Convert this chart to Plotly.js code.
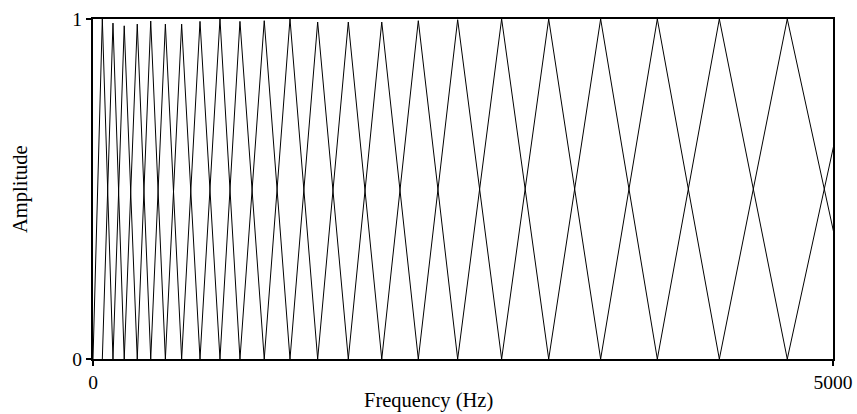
<!DOCTYPE html>
<html>
<head>
<meta charset="utf-8">
<script src="https://cdn.plot.ly/plotly-3.0.1.min.js"></script>
<style>body{margin:0;background:#fff}#chart{width:857px;height:414px}</style>
</head>
<body>
<div id="chart"></div>
<script>
// Filter centre frequencies (Hz), including the edges 0 and the off-chart centres
const centers = [0, 63, 135, 211, 299, 390, 489, 599, 723, 858, 993, 1157, 1331, 1518, 1725, 1951, 2198, 2464, 2761, 3079, 3430, 3813, 4232, 4691, 5191, 5730];
// Peak amplitude of each triangular filter (filter k peaks at centers[k+1])
const peaks = [1.0, 0.988, 0.980, 0.985, 0.994, 0.985, 0.985, 0.993, 1.0, 0.993, 0.995, 1.0, 0.991, 0.991, 0.991, 0.995, 0.998, 1.0, 1.0, 1.0, 1.0, 1.0, 1.0, 1.0];
const xTickVals = [0, 5000];
const xTickText = ['0', '5000'];
const yTickVals = [0, 1];
const yTickText = ['0', '1'];
const xTitle = 'Frequency (Hz)';
const yTitle = 'Amplitude';

const traces = [];
for (let k = 0; k < peaks.length; k++) {
  traces.push({
    type: 'scatter', mode: 'lines',
    x: [centers[k], centers[k + 1], centers[k + 2]],
    y: [0, peaks[k], 0],
    line: {color: '#000', width: 1},
    hoverinfo: 'skip', showlegend: false
  });
}

const font = {family: '"Liberation Serif", "Times New Roman", serif', size: 19.5, color: '#000'};
const titleFont = {family: '"Liberation Serif", "Times New Roman", serif', size: 20.5, color: '#000'};
const layout = {
  width: 857, height: 414,
  margin: {l: 93, r: 24, t: 19, b: 55},
  paper_bgcolor: '#fff', plot_bgcolor: '#fff',
  font: font,
  showlegend: false,
  xaxis: {
    range: [0, 5000], tickvals: xTickVals, ticktext: xTickText,
    showgrid: false, zeroline: false,
    showline: true, linecolor: '#000', linewidth: 2, mirror: true,
    ticks: 'outside', ticklen: 5, tickcolor: '#000', tickwidth: 1.5,
    tickfont: font
  },
  yaxis: {
    range: [0, 1], tickvals: yTickVals, ticktext: yTickText,
    showgrid: false, zeroline: false,
    showline: true, linecolor: '#000', linewidth: 2, mirror: true,
    ticks: 'outside', ticklen: 5, tickcolor: '#000', tickwidth: 1.5,
    tickfont: font
  },
  annotations: [
    {text: xTitle, xref: 'paper', yref: 'paper', x: 0.4534, y: 0,
     xanchor: 'center', yanchor: 'middle', yshift: -41, showarrow: false, font: titleFont},
    {text: yTitle, xref: 'paper', yref: 'paper', x: 0, y: 0.5,
     xanchor: 'center', yanchor: 'middle', xshift: -73, textangle: -90, showarrow: false, font: titleFont}
  ]
};
Plotly.newPlot('chart', traces, layout, {staticPlot: true, displayModeBar: false});
</script>
</body>
</html>
